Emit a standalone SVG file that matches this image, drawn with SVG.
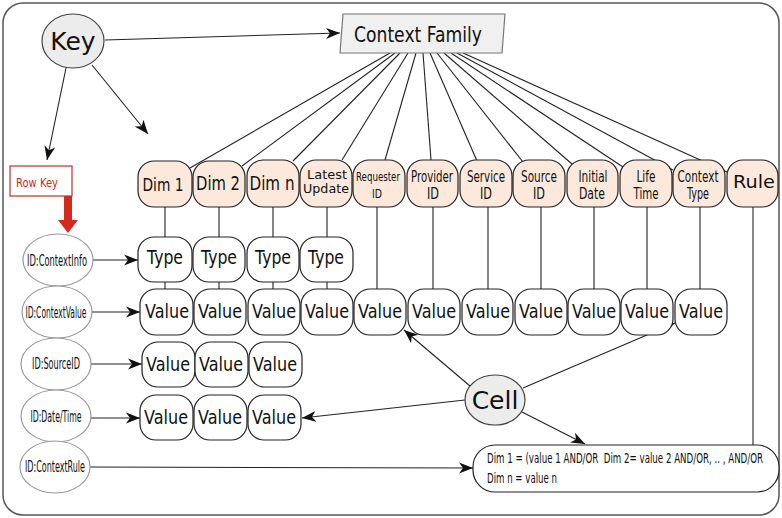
<svg xmlns="http://www.w3.org/2000/svg" width="782" height="518" viewBox="0 0 782 518">
<style>
text{font-family:"DejaVu Sans","Liberation Sans",sans-serif;fill:#111;text-anchor:middle}
.hdr{fill:#fde9db;stroke:#222;stroke-width:1.2}
.box{fill:#fff;stroke:#222;stroke-width:1.2}
.rowid{fill:#fff;stroke:#999;stroke-width:1.2}
.ln{stroke:#222;stroke-width:1.1;fill:none}
.arr{stroke:#222;stroke-width:1.1;fill:none;marker-end:url(#ah)}
.t19{font-size:19px}
.t12{font-size:15px}
.h2{font-size:15px}
</style>
<defs>
<marker id="ah" markerUnits="userSpaceOnUse" markerWidth="16" markerHeight="12" refX="0" refY="0" viewBox="-14 -6 16 12" orient="auto">
<path d="M0,0 L-14,-5.5 L-10,0 L-14,5.5 Z" fill="#111"/>
</marker>
</defs>
<rect x="3" y="3" width="776" height="512" rx="20" fill="#fff" stroke="#555" stroke-width="1.5"/>

<g id="connectors">
<line class="arr" x1="105" y1="40" x2="340" y2="33"/>
<line class="arr" x1="66" y1="68" x2="47" y2="160"/>
<line class="arr" x1="92" y1="65" x2="148" y2="134"/>
<line class="ln" x1="390" y1="53" x2="190" y2="168"/>
<line class="ln" x1="395" y1="53" x2="242" y2="166"/>
<line class="ln" x1="400" y1="53" x2="293" y2="161"/>
<line class="ln" x1="408" y1="53" x2="342" y2="160"/>
<line class="ln" x1="416" y1="53" x2="385" y2="160"/>
<line class="ln" x1="423" y1="53" x2="431" y2="160"/>
<line class="ln" x1="430" y1="53" x2="477" y2="161"/>
<line class="ln" x1="437" y1="53" x2="523" y2="162"/>
<line class="ln" x1="444" y1="53" x2="572" y2="164"/>
<line class="ln" x1="451" y1="53" x2="623" y2="167"/>
<line class="ln" x1="457" y1="53" x2="673" y2="170"/>
<line class="ln" x1="463" y1="53" x2="727" y2="172"/>
<line class="ln" x1="165" y1="207" x2="165" y2="237"/>
<line class="ln" x1="219" y1="207" x2="219" y2="237"/>
<line class="ln" x1="273" y1="207" x2="273" y2="237"/>
<line class="ln" x1="327" y1="207" x2="327" y2="237"/>
<line class="ln" x1="165" y1="282" x2="165" y2="289"/>
<line class="ln" x1="219" y1="282" x2="219" y2="289"/>
<line class="ln" x1="273" y1="282" x2="273" y2="289"/>
<line class="ln" x1="327" y1="282" x2="327" y2="289"/>
<line class="ln" x1="377" y1="207" x2="377" y2="289"/>
<line class="ln" x1="433" y1="207" x2="433" y2="289"/>
<line class="ln" x1="488" y1="207" x2="488" y2="289"/>
<line class="ln" x1="541" y1="207" x2="541" y2="289"/>
<line class="ln" x1="594" y1="207" x2="594" y2="289"/>
<line class="ln" x1="647" y1="207" x2="647" y2="289"/>
<line x1="700" y1="207" x2="700" y2="289" stroke="#666" stroke-width="1.6"/>
<line x1="753" y1="207" x2="753" y2="445" stroke="#555" stroke-width="1.4"/>
<line class="arr" x1="93" y1="260" x2="138" y2="260"/>
<line class="arr" x1="92" y1="312" x2="140" y2="312"/>
<line class="arr" x1="91" y1="364" x2="142" y2="364"/>
<line class="arr" x1="91" y1="418" x2="140" y2="418"/>
<line class="arr" x1="90" y1="467" x2="473" y2="468"/>
<line class="arr" x1="470" y1="386" x2="404" y2="330"/>
<line class="arr" x1="523" y1="388" x2="675" y2="323"/>
<line class="arr" x1="465" y1="400" x2="302" y2="418"/>
<line class="arr" x1="522" y1="412" x2="585" y2="444"/>
<rect x="64" y="196" width="8" height="25" fill="#d42a1e"/>
<polygon points="58,220 78,220 68,233" fill="#d42a1e"/>
</g>

<g id="key">
<ellipse cx="73" cy="41" rx="31" ry="27" fill="#ececec" stroke="#444" stroke-width="1.2"/>
<text x="73" y="50" font-size="25">Key</text>
</g>
<g id="context-family">
<polygon points="343,14 505,14 502,53 340,53" fill="#f0f0f0" stroke="#777" stroke-width="1.2"/>
<text x="418" y="42" font-size="22" textLength="128" lengthAdjust="spacingAndGlyphs">Context Family</text>
</g>
<g id="row-key">
<rect x="10" y="166" width="62" height="30" fill="#fff" stroke="#c03030" stroke-width="1.2"/>
<text x="37" y="187" font-size="13" style="fill:#cc2a22" textLength="42" lengthAdjust="spacingAndGlyphs">Row Key</text>
</g>

<g id="h-dim1"><rect class="hdr" x="138" y="161" width="54" height="46" rx="16"/><text x="163" y="191" font-size="17" textLength="41" lengthAdjust="spacingAndGlyphs">Dim 1</text></g>
<g id="h-dim2"><rect class="hdr" x="193" y="161" width="52" height="46" rx="16"/><text x="218" y="190" font-size="20" textLength="44" lengthAdjust="spacingAndGlyphs">Dim 2</text></g>
<g id="h-dimn"><rect class="hdr" x="247" y="160" width="52" height="47" rx="16"/><text x="272" y="190" font-size="20" textLength="45" lengthAdjust="spacingAndGlyphs">Dim n</text></g>
<g id="h-latest"><rect class="hdr" x="300" y="160" width="52" height="47" rx="16"/><text x="327" y="179" font-size="13" textLength="40" lengthAdjust="spacingAndGlyphs">Latest</text><text x="326" y="193" font-size="13" textLength="46" lengthAdjust="spacingAndGlyphs">Update</text></g>
<g id="h-requester"><rect class="hdr" x="353" y="160" width="52" height="47" rx="16"/><text x="378" y="181" font-size="13" textLength="44" lengthAdjust="spacingAndGlyphs">Requester</text><text x="377" y="198" font-size="13" textLength="10" lengthAdjust="spacingAndGlyphs">ID</text></g>
<g id="h-provider"><rect class="hdr" x="407" y="160" width="51" height="47" rx="16"/><text class="h2" x="432" y="182" textLength="42" lengthAdjust="spacingAndGlyphs">Provider</text><text class="h2" x="433" y="199" textLength="12" lengthAdjust="spacingAndGlyphs">ID</text></g>
<g id="h-service"><rect class="hdr" x="460" y="160" width="52" height="47" rx="16"/><text class="h2" x="486" y="182" textLength="38" lengthAdjust="spacingAndGlyphs">Service</text><text class="h2" x="486" y="199" textLength="12" lengthAdjust="spacingAndGlyphs">ID</text></g>
<g id="h-source"><rect class="hdr" x="513" y="160" width="52" height="47" rx="16"/><text class="h2" x="539" y="182" textLength="36" lengthAdjust="spacingAndGlyphs">Source</text><text class="h2" x="539" y="199" textLength="12" lengthAdjust="spacingAndGlyphs">ID</text></g>
<g id="h-initial"><rect class="hdr" x="567" y="160" width="51" height="47" rx="16"/><text class="h2" x="593" y="182" textLength="29" lengthAdjust="spacingAndGlyphs">Initial</text><text class="h2" x="592" y="199" textLength="26" lengthAdjust="spacingAndGlyphs">Date</text></g>
<g id="h-life"><rect class="hdr" x="620" y="160" width="52" height="47" rx="16"/><text class="h2" x="646" y="182" textLength="19" lengthAdjust="spacingAndGlyphs">Life</text><text class="h2" x="646" y="199" textLength="25" lengthAdjust="spacingAndGlyphs">Time</text></g>
<g id="h-ctxtype"><rect class="hdr" x="673" y="160" width="52" height="47" rx="16"/><text class="h2" x="698" y="182" textLength="41" lengthAdjust="spacingAndGlyphs">Context</text><text class="h2" x="698" y="199" textLength="22" lengthAdjust="spacingAndGlyphs">Type</text></g>
<g id="h-rule"><rect class="hdr" x="727" y="160" width="51" height="47" rx="16"/><text x="754" y="188" font-size="18" textLength="42" lengthAdjust="spacingAndGlyphs">Rule</text></g>

<g id="r1-type1"><rect class="box" x="138" y="237" width="54" height="45" rx="16"/><text class="t19" x="165" y="264" textLength="36" lengthAdjust="spacingAndGlyphs">Type</text></g>
<g id="r1-type2"><rect class="box" x="193" y="237" width="52" height="45" rx="16"/><text class="t19" x="219" y="264" textLength="36" lengthAdjust="spacingAndGlyphs">Type</text></g>
<g id="r1-type3"><rect class="box" x="247" y="237" width="52" height="45" rx="16"/><text class="t19" x="273" y="264" textLength="36" lengthAdjust="spacingAndGlyphs">Type</text></g>
<g id="r1-type4"><rect class="box" x="300" y="237" width="53" height="45" rx="16"/><text class="t19" x="326" y="264" textLength="36" lengthAdjust="spacingAndGlyphs">Type</text></g>

<g id="r2-v1"><rect class="box" x="140" y="289" width="53" height="46" rx="16"/><text class="t19" x="167" y="318" textLength="44" lengthAdjust="spacingAndGlyphs">Value</text></g>
<g id="r2-v2"><rect class="box" x="194" y="289" width="52" height="46" rx="16"/><text class="t19" x="220" y="318" textLength="44" lengthAdjust="spacingAndGlyphs">Value</text></g>
<g id="r2-v3"><rect class="box" x="248" y="289" width="52" height="46" rx="16"/><text class="t19" x="274" y="318" textLength="44" lengthAdjust="spacingAndGlyphs">Value</text></g>
<g id="r2-v4"><rect class="box" x="301" y="289" width="52" height="46" rx="16"/><text class="t19" x="327" y="318" textLength="44" lengthAdjust="spacingAndGlyphs">Value</text></g>
<g id="r2-v5"><rect class="box" x="354" y="289" width="52" height="46" rx="16"/><text class="t19" x="380" y="318" textLength="44" lengthAdjust="spacingAndGlyphs">Value</text></g>
<g id="r2-v6"><rect class="box" x="408" y="289" width="52" height="46" rx="16"/><text class="t19" x="434" y="318" textLength="44" lengthAdjust="spacingAndGlyphs">Value</text></g>
<g id="r2-v7"><rect class="box" x="462" y="289" width="51" height="46" rx="16"/><text class="t19" x="488" y="318" textLength="44" lengthAdjust="spacingAndGlyphs">Value</text></g>
<g id="r2-v8"><rect class="box" x="515" y="289" width="52" height="46" rx="16"/><text class="t19" x="541" y="318" textLength="44" lengthAdjust="spacingAndGlyphs">Value</text></g>
<g id="r2-v9"><rect class="box" x="568" y="289" width="52" height="46" rx="16"/><text class="t19" x="594" y="318" textLength="44" lengthAdjust="spacingAndGlyphs">Value</text></g>
<g id="r2-v10"><rect class="box" x="621" y="289" width="52" height="46" rx="16"/><text class="t19" x="647" y="318" textLength="44" lengthAdjust="spacingAndGlyphs">Value</text></g>
<g id="r2-v11"><rect class="box" x="675" y="289" width="52" height="46" rx="16"/><text class="t19" x="701" y="318" textLength="44" lengthAdjust="spacingAndGlyphs">Value</text></g>

<g id="r3-v1"><rect class="box" x="142" y="342" width="53" height="45" rx="16"/><text class="t19" x="168" y="371" textLength="44" lengthAdjust="spacingAndGlyphs">Value</text></g>
<g id="r3-v2"><rect class="box" x="195" y="342" width="53" height="45" rx="16"/><text class="t19" x="221" y="371" textLength="44" lengthAdjust="spacingAndGlyphs">Value</text></g>
<g id="r3-v3"><rect class="box" x="249" y="342" width="53" height="45" rx="16"/><text class="t19" x="275" y="371" textLength="44" lengthAdjust="spacingAndGlyphs">Value</text></g>

<g id="r4-v1"><rect class="box" x="140" y="395" width="53" height="45" rx="16"/><text class="t19" x="166" y="424" textLength="44" lengthAdjust="spacingAndGlyphs">Value</text></g>
<g id="r4-v2"><rect class="box" x="194" y="395" width="53" height="45" rx="16"/><text class="t19" x="220" y="424" textLength="44" lengthAdjust="spacingAndGlyphs">Value</text></g>
<g id="r4-v3"><rect class="box" x="248" y="395" width="53" height="45" rx="16"/><text class="t19" x="274" y="424" textLength="44" lengthAdjust="spacingAndGlyphs">Value</text></g>

<g id="id-contextinfo"><ellipse class="rowid" cx="58" cy="260" rx="35" ry="26"/><text class="t12" x="57" y="266" textLength="60" lengthAdjust="spacingAndGlyphs">ID:ContextInfo</text></g>
<g id="id-contextvalue"><ellipse class="rowid" cx="57" cy="312" rx="35" ry="26"/><text class="t12" x="56" y="318" textLength="61" lengthAdjust="spacingAndGlyphs">ID:ContextValue</text></g>
<g id="id-sourceid"><ellipse class="rowid" cx="56" cy="364" rx="35" ry="26"/><text class="t12" x="56" y="369" textLength="48" lengthAdjust="spacingAndGlyphs">ID:SourceID</text></g>
<g id="id-datetime"><ellipse class="rowid" cx="56" cy="416" rx="35" ry="26"/><text class="t12" x="56" y="422" textLength="51" lengthAdjust="spacingAndGlyphs">ID:Date/Time</text></g>
<g id="id-contextrule"><ellipse class="rowid" cx="55" cy="467" rx="35" ry="26"/><text class="t12" x="55" y="472" textLength="60" lengthAdjust="spacingAndGlyphs">ID:ContextRule</text></g>

<g id="cell"><ellipse cx="495" cy="400" rx="30" ry="25" fill="#ececec" stroke="#444" stroke-width="1.2"/><text x="495" y="409" font-size="25">Cell</text></g>

<g id="rule-box">
<rect class="box" x="473" y="445" width="306" height="47" rx="22"/>
<text x="487" y="463" font-size="14" style="text-anchor:start;white-space:pre" textLength="276" lengthAdjust="spacingAndGlyphs">Dim 1 = (value 1 AND/OR  Dim 2= value 2 AND/OR, .. , AND/OR</text>
<text x="487" y="483" font-size="14" style="text-anchor:start" textLength="70" lengthAdjust="spacingAndGlyphs">Dim n = value n</text>
</g>
</svg>
